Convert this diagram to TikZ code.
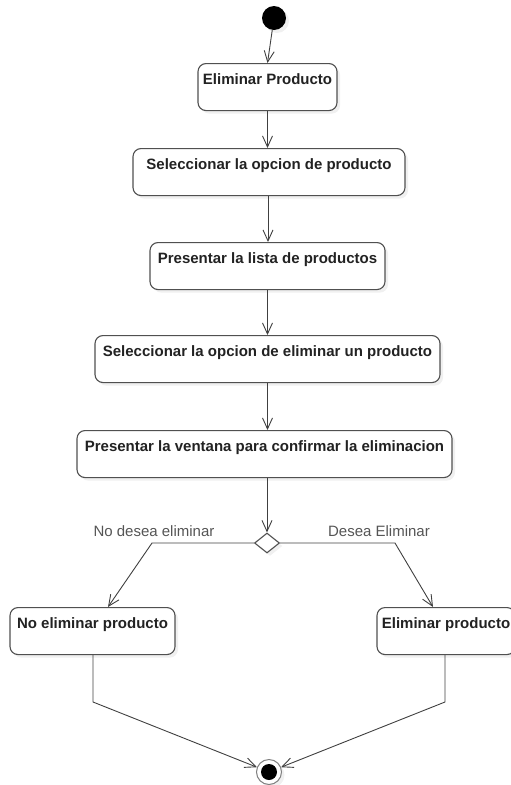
\documentclass[tikz,border=0pt]{standalone}
\usepackage{fontspec}
\setmainfont{Liberation Sans}
\usetikzlibrary{arrows.meta,shapes.geometric,shadows}
\definecolor{linec}{HTML}{404040}
\definecolor{boxc}{HTML}{505050}
\definecolor{txtc}{HTML}{222222}
\definecolor{lblc}{HTML}{555555}
\begin{document}
\begin{tikzpicture}[x=1pt,y=-1pt,
  act/.style={draw=boxc, line width=1.1pt, rounded corners=8pt, fill=white,
    font=\fontsize{15}{18}\selectfont\bfseries, text=txtc,
    inner xsep=0pt, inner ysep=0pt, text height=21pt, text depth=26pt, anchor=north,
    drop shadow={shadow xshift=3pt, shadow yshift=-3pt, opacity=0.12}},
  arr/.style={draw=linec, line width=0.9pt, -{Straight Barb[length=11pt,width=10pt]}},
  lbl/.style={font=\fontsize{15}{18}\selectfont, text=lblc, inner sep=0pt}]
\useasboundingbox (0,0) rectangle (511,785);

\node[circle, fill=black, minimum size=24pt, inner sep=0pt,
  drop shadow={shadow xshift=3pt, shadow yshift=-3pt, opacity=0.12}] (start) at (274,18) {};

\node[act, minimum width=139pt] (b1) at (267.5,63) {Eliminar Producto};
\node[act, minimum width=272pt] (b2) at (269,148) {Seleccionar la opcion de producto};
\node[act, minimum width=235pt] (b3) at (267.5,242) {Presentar la lista de productos};
\node[act, minimum width=345pt] (b4) at (267.5,335) {Seleccionar la opcion de eliminar un producto};
\node[act, minimum width=375pt] (b5) at (264.5,430) {Presentar la ventana para confirmar la eliminacion};

\node[diamond, draw=boxc, line width=1.1pt, fill=white, minimum width=25pt, minimum height=20pt,
  inner sep=0pt, drop shadow={shadow xshift=3pt, shadow yshift=-3pt, opacity=0.12}] (d) at (267,543) {};

\node[act, minimum width=165pt] (b6) at (92.5,607) {No eliminar producto};
\node[act, minimum width=138pt] (b7) at (446,607) {Eliminar producto};

\node[circle, draw=gray, line width=1pt, fill=white, minimum size=25pt, inner sep=0pt,
  drop shadow={shadow xshift=3pt, shadow yshift=-3pt, opacity=0.12}] (end) at (269,772) {};
\node[circle, fill=black, minimum size=16pt, inner sep=0pt] (endin) at (end) {};

\node[lbl] (l1) at (154,531) {No desea eliminar};
\node[lbl] (l2) at (379,531) {Desea Eliminar};

\coordinate (cl) at (152,543);
\coordinate (cr) at (395,543);
\coordinate (bl) at (93,702);
\coordinate (br) at (445,702);

\draw[arr] (start) -- (b1.north);
\draw[arr] (b1.south) -- (b1.south |- b2.north);
\draw[arr] ([xshift=-1pt]b2.south) -- ([xshift=-1pt]b2.south |- b3.north);
\draw[arr] (b3.south) -- (b3.south |- b4.north);
\draw[arr] (b4.south) -- (b4.south |- b5.north);
\draw[arr] (d.north |- b5.south) -- (d.north);
\draw[arr] (d.west) -- (cl) -- ([xshift=15.5pt]b6.north);
\draw[arr] (d.east) -- (cr) -- ([xshift=-13pt]b7.north);
\draw[arr] (bl |- b6.south) -- (bl) -- (end);
\draw[arr] (br |- b7.south) -- (br) -- (end);
\end{tikzpicture}
\end{document}
